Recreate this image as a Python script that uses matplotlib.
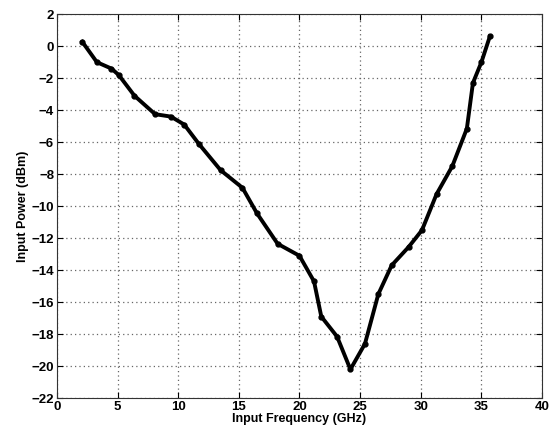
import numpy as np
import matplotlib.pyplot as plt

plt.rcParams['font.family'] = ['Liberation Sans', 'DejaVu Sans']

# values
freq_ghz = [2.1, 3.3, 4.5, 5.1, 6.4, 8.1, 9.4, 10.5, 11.7, 13.5, 15.3, 16.5,
            18.2, 20.0, 21.2, 21.8, 23.1, 24.2, 25.4, 26.5, 27.6, 29.0,
            30.1, 31.3, 32.6, 33.8, 34.3, 35.0, 35.7]
power_dbm = [0.27, -1.0, -1.4, -1.8, -3.1, -4.25, -4.4, -4.9, -6.1, -7.75, -8.85, -10.45,
             -12.35, -13.1, -14.7, -16.9, -18.15, -20.2, -18.6, -15.5, -13.7, -12.55,
             -11.5, -9.25, -7.5, -5.15, -2.3, -1.0, 0.62]
xticks = np.arange(0, 41, 5)
yticks = np.arange(-22, 3, 2)

fig = plt.figure(figsize=(5.52, 4.30), dpi=100)
ax = fig.add_axes([0.103, 0.074, 0.879, 0.893])

ax.plot(freq_ghz, power_dbm, color='black', linewidth=2.8, marker='o', markersize=3.5)

ax.set_xlim(0, 40)
ax.set_ylim(-22, 2)
ax.set_xticks(xticks)
ax.set_yticks(yticks)
ax.tick_params(direction='in', top=True, right=True, labelsize=9.5, pad=2, length=4)
for lab in ax.get_xticklabels() + ax.get_yticklabels():
    lab.set_fontweight('bold')
ax.grid(True, linestyle=(0, (1, 2.5)), color='#666666', linewidth=0.9)
ax.set_xlabel('Input Frequency (GHz)', fontsize=9, fontweight='bold', labelpad=0)
ax.set_ylabel('Input Power (dBm)', fontsize=9, fontweight='bold', labelpad=2)
for s in ax.spines.values():
    s.set_color('#333333')

plt.savefig('out.png', dpi=100)
